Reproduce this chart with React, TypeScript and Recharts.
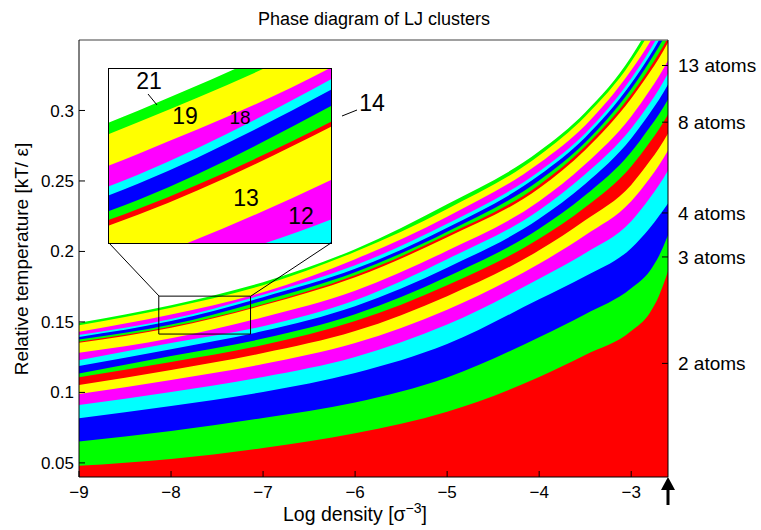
import React from 'react'
import { AreaChart, Area, XAxis, YAxis, ReferenceArea, ReferenceLine } from 'recharts'

// log10 density sample points (sigma^-3)
const logDensity = [-9, -8, -7, -6, -5, -4, -3.5, -3, -2.8, -2.7, -2.6]

// upper temperature edge of the region where each cluster size dominates (kT/eps)
const edge21 = [0.1494, 0.1619, 0.1782, 0.2016, 0.2334, 0.271, 0.2986, 0.3382, 0.3602, 0.3737, 0.3892]
const edge19 = [0.1477, 0.1601, 0.1761, 0.1998, 0.2302, 0.2681, 0.2958, 0.3345, 0.356, 0.3694, 0.385]
const edge18 = [0.143, 0.1552, 0.1711, 0.1945, 0.2246, 0.2625, 0.2894, 0.3285, 0.3482, 0.3595, 0.3722]
const edge17 = [0.1407, 0.152, 0.1693, 0.1902, 0.2196, 0.2568, 0.2837, 0.3227, 0.3425, 0.3538, 0.3659]
const edge16 = [0.1394, 0.1506, 0.1676, 0.1877, 0.2168, 0.254, 0.2809, 0.3191, 0.3386, 0.3496, 0.3616]
const edge15 = [0.1376, 0.1481, 0.1651, 0.1853, 0.214, 0.2504, 0.2773, 0.3152, 0.3347, 0.3453, 0.3567]
const edge14 = [0.1359, 0.1467, 0.1626, 0.1831, 0.2118, 0.2472, 0.2745, 0.3113, 0.3301, 0.3404, 0.3517]
const edge13 = [0.1352, 0.1458, 0.1618, 0.1817, 0.2101, 0.2448, 0.272, 0.3085, 0.3269, 0.3368, 0.3482]
const edge12 = [0.1281, 0.1385, 0.1534, 0.1722, 0.2005, 0.2356, 0.2618, 0.2958, 0.3142, 0.3241, 0.3354]
const edge11 = [0.1229, 0.135, 0.147, 0.1654, 0.1945, 0.2292, 0.2547, 0.2873, 0.305, 0.3149, 0.3262]
const edge10 = [0.1187, 0.1307, 0.1435, 0.1612, 0.1885, 0.2232, 0.2479, 0.2802, 0.2979, 0.3074, 0.3184]
const edge9 = [0.1135, 0.1258, 0.1382, 0.1555, 0.1821, 0.2161, 0.2398, 0.2706, 0.288, 0.2972, 0.3078]
const edge8 = [0.1107, 0.1215, 0.1336, 0.1506, 0.1761, 0.209, 0.2313, 0.2603, 0.2773, 0.2865, 0.2972]
const edge7 = [0.1052, 0.1159, 0.1279, 0.1435, 0.1683, 0.2008, 0.2221, 0.2472, 0.2639, 0.2731, 0.2837]
const edge6 = [0.0989, 0.1088, 0.1201, 0.135, 0.1587, 0.1913, 0.2115, 0.2356, 0.2518, 0.261, 0.2717]
const edge5 = [0.0911, 0.1003, 0.1109, 0.1251, 0.1481, 0.1807, 0.1987, 0.2214, 0.2377, 0.2469, 0.2575]
const edge4 = [0.0817, 0.0904, 0.1003, 0.1137, 0.1343, 0.1661, 0.1824, 0.2023, 0.2164, 0.2249, 0.2341]
const edge3 = [0.0651, 0.0727, 0.0819, 0.0928, 0.1106, 0.1392, 0.1555, 0.1739, 0.186, 0.1966, 0.2115]
const edge2 = [0.0479, 0.0528, 0.0606, 0.071, 0.0863, 0.1109, 0.1265, 0.1435, 0.1562, 0.1683, 0.186]

const xTicks = [-9, -8, -7, -6, -5, -4, -3]
const tTicks = [0.05, 0.1, 0.15, 0.2, 0.25, 0.3]
const atomTicks = [0.1206, 0.1961, 0.2273, 0.2917, 0.3319]
const atomLabels = ['2 atoms', '3 atoms', '4 atoms', '8 atoms', '13 atoms']

// zoomed window shown in the inset
const zoomX = [-8.133, -7.136]
const zoomT = [0.1414, 0.1683]

const RED = '#ff0000'
const GREEN = '#00ff00'
const BLUE = '#0000ff'
const CYAN = '#00ffff'
const MAGENTA = '#ff00ff'
const YELLOW = '#ffff00'
const FONT = "'Liberation Sans', Arial, Helvetica, sans-serif"

// painted top first, each one covers everything below its edge
const bands = [
  { size: 21, color: GREEN, edge: edge21 },
  { size: 19, color: YELLOW, edge: edge19 },
  { size: 18, color: MAGENTA, edge: edge18 },
  { size: 17, color: CYAN, edge: edge17 },
  { size: 16, color: BLUE, edge: edge16 },
  { size: 15, color: GREEN, edge: edge15 },
  { size: 14, color: RED, edge: edge14 },
  { size: 13, color: YELLOW, edge: edge13 },
  { size: 12, color: MAGENTA, edge: edge12 },
  { size: 11, color: CYAN, edge: edge11 },
  { size: 10, color: BLUE, edge: edge10 },
  { size: 9, color: GREEN, edge: edge9 },
  { size: 8, color: RED, edge: edge8 },
  { size: 7, color: YELLOW, edge: edge7 },
  { size: 6, color: MAGENTA, edge: edge6 },
  { size: 5, color: CYAN, edge: edge5 },
  { size: 4, color: BLUE, edge: edge4 },
  { size: 3, color: GREEN, edge: edge3 },
  { size: 2, color: RED, edge: edge2 },
]

const rows = logDensity.map((x, i) => {
  const row: Record<string, number> = { x }
  bands.forEach((b) => {
    row['n' + b.size] = b.edge[i]
  })
  return row
})

const minus = (v: number) => (v < 0 ? '\u2212' + Math.abs(v) : String(v))

const bandAreas = (prefix: string) =>
  bands.map((b) => (
    <Area
      key={prefix + b.size}
      dataKey={'n' + b.size}
      type="monotone"
      fill={b.color}
      fillOpacity={1}
      stroke="none"
      dot={false}
      activeDot={false}
      isAnimationActive={false}
    />
  ))

const tickStyle = { fill: '#000', fontSize: 17, fontFamily: FONT }

export default function App() {
  return (
    <div
      style={{
        position: 'absolute',
        left: 0,
        top: 0,
        width: 761,
        height: 530,
        background: '#fff',
        fontFamily: FONT,
      }}
    >
      <AreaChart width={761} height={530} data={rows} margin={{ top: 40, right: 0, bottom: 0, left: 0 }}>
        {bandAreas('m')}
        <ReferenceArea
          x1={zoomX[0]}
          x2={zoomX[1]}
          y1={zoomT[0]}
          y2={zoomT[1]}
          fill="none"
          fillOpacity={0}
          stroke="#000"
          strokeWidth={1}
        />
        <ReferenceLine y={0.35} stroke="#808080" strokeWidth={1.5} />
        <XAxis
          dataKey="x"
          type="number"
          domain={[-9, -2.6]}
          ticks={xTicks}
          interval={0}
          tickFormatter={minus}
          allowDataOverflow
          height={53}
          tickSize={-6}
          tickMargin={15}
          stroke="#000"
          tick={tickStyle}
        />
        <YAxis
          type="number"
          domain={[0.04, 0.35]}
          ticks={tTicks}
          interval={0}
          allowDataOverflow
          width={79}
          tickSize={-6}
          tickMargin={11}
          stroke="#000"
          tick={tickStyle}
        />
        <YAxis
          yAxisId="atoms"
          orientation="right"
          type="number"
          domain={[0.04, 0.35]}
          ticks={atomTicks}
          interval={0}
          tickFormatter={(v: number) => atomLabels[atomTicks.indexOf(v)]}
          allowDataOverflow
          width={93}
          tickSize={-6}
          tickMargin={16}
          stroke="#000"
          tick={{ ...tickStyle, fontSize: 19 }}
        />
      </AreaChart>

      <div
        style={{
          position: 'absolute',
          left: 108,
          top: 68,
          width: 222,
          height: 174,
          border: '1px solid #000',
          background: '#fff',
        }}
      >
        <AreaChart width={222} height={174} data={rows} margin={{ top: 0, right: 0, bottom: 0, left: 0 }}>
          {bandAreas('z')}
          <XAxis dataKey="x" type="number" domain={zoomX} allowDataOverflow hide />
          <YAxis type="number" domain={zoomT} allowDataOverflow hide />
        </AreaChart>
      </div>

      <svg
        width={761}
        height={530}
        style={{ position: 'absolute', left: 0, top: 0, pointerEvents: 'none' }}
        fontFamily={FONT}
      >
        <text x={374} y={25} textAnchor="middle" fontSize={18} fill="#000">
          Phase diagram of LJ clusters
        </text>
        <text x={283} y={521} fontSize={19.5} fill="#000">
          Log density [σ
          <tspan dy={-8} fontSize={14}>
            {'\u22123'}
          </tspan>
          <tspan dy={8}>]</tspan>
        </text>
        <text
          x={0}
          y={0}
          transform="translate(28 259) rotate(-90)"
          textAnchor="middle"
          fontSize={19}
          fill="#000"
        >
          Relative temperature [kT/ ε]
        </text>

        <line x1={109} y1={243} x2={159} y2={296} stroke="#000" strokeWidth={1} />
        <line x1={331} y1={243} x2={251} y2={296} stroke="#000" strokeWidth={1} />

        <text x={149} y={81} textAnchor="middle" dominantBaseline="central" fontSize={23} fill="#000">
          21
        </text>
        <line x1={148} y1={94} x2={157} y2={105} stroke="#000" strokeWidth={1} />
        <text x={185} y={116} textAnchor="middle" dominantBaseline="central" fontSize={23} fill="#000">
          19
        </text>
        <text x={240} y={117} textAnchor="middle" dominantBaseline="central" fontSize={19} fill="#000">
          18
        </text>
        <text x={246} y={198} textAnchor="middle" dominantBaseline="central" fontSize={23} fill="#000">
          13
        </text>
        <text x={301} y={216} textAnchor="middle" dominantBaseline="central" fontSize={23} fill="#000">
          12
        </text>
        <text x={372} y={103} textAnchor="middle" dominantBaseline="central" fontSize={23} fill="#000">
          14
        </text>
        <line x1={342} y1={116} x2={357} y2={110} stroke="#000" strokeWidth={1} />

        <line x1={668} y1={505} x2={668} y2={486} stroke="#000" strokeWidth={3} />
        <polygon points="661,490 668,477 675,490" fill="#000" />
      </svg>
    </div>
  )
}
